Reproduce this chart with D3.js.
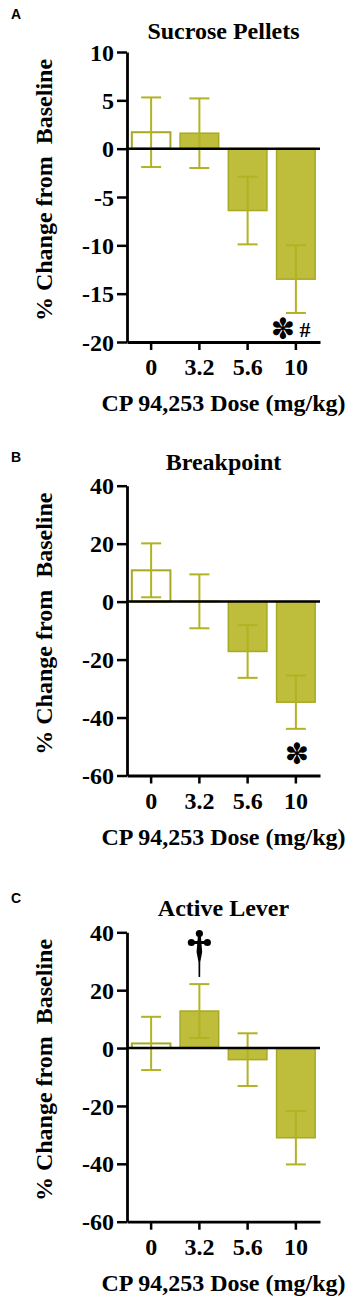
<!DOCTYPE html>
<html>
<head>
<meta charset="utf-8">
<script src="https://cdn.jsdelivr.net/npm/d3@7"></script>
<style>
  body { margin: 0; background: #fff; }
  svg { display: block; }
</style>
</head>
<body>
<div id="chart"></div>
<script>
// ─── Data ────────────────────────────────────────────────────────────────
const doses = ['0', '3.2', '5.6', '10'];

const sucroseMean = [1.7, 1.6, -6.4, -13.5];
const sucroseSem  = [3.6, 3.6, 3.5, 3.5];
const sucroseTicks = [10, 5, 0, -5, -10, -15, -20];

const breakpointMean = [10.8, 0.1, -17.2, -34.7];
const breakpointSem  = [9.3, 9.3, 9.1, 9.2];
const percentTicks = [40, 20, 0, -20, -40, -60];

const activeMean = [1.6, 12.8, -4.0, -31.0];
const activeSem  = [9.2, 9.3, 9.1, 9.2];

const SERIF = '"Liberation Serif", "Times New Roman", serif';
const SANS  = '"Liberation Sans", Arial, sans-serif';
const FILL = '#bebe3c';
const EDGE = '#a8a824';
const ERR  = '#b2b222';

const AXIS_X = 127, AXIS_R = 320;

const svg = d3.select('#chart').append('svg')
  .attr('width', 363).attr('height', 1300);

const panels = [
  { letter: 'A', title: 'Sucrose Pellets', mean: sucroseMean, sem: sucroseSem, ticks: sucroseTicks,
    top: 52, bottom: 342, titleY: 38.5, letterY: 19,
    marks: [{ text: '✽', i: 3, dx: -13, y: 328.5, size: 29 }, { text: '#', i: 3, dx: 9, y: 337, size: 22 }] },
  { letter: 'B', title: 'Breakpoint', mean: breakpointMean, sem: breakpointSem, ticks: percentTicks,
    top: 485.7, bottom: 775.5, titleY: 469.5, letterY: 462,
    marks: [{ text: '✽', i: 3, dx: 1, y: 753.5, size: 29 }] },
  { letter: 'C', title: 'Active Lever', mean: activeMean, sem: activeSem, ticks: percentTicks,
    top: 932.3, bottom: 1221.7, titleY: 916, letterY: 903, dagger: { i: 1, y: 930 } }
];

panels.forEach(drawPanel);

function styleText(sel, size) {
  sel.attr('font-family', SERIF).attr('font-weight', 'bold').attr('font-size', size).attr('fill', '#000');
}

function drawPanel(p) {
  const data = doses.map((d, i) => ({ dose: d, mean: p.mean[i], sem: p.sem[i], i }));
  const x = d3.scaleBand().domain(doses).range([AXIS_X, AXIS_R]).paddingInner(0.2).paddingOuter(0.1);
  const y = d3.scaleLinear().domain([d3.min(p.ticks), d3.max(p.ticks)]).range([p.bottom, p.top]);
  const mid = d => x(d.dose) + x.bandwidth() / 2;
  const g = svg.append('g');

  // bars
  g.selectAll('.bar').data(data).join('rect')
    .attr('class', 'bar')
    .attr('x', d => x(d.dose))
    .attr('width', x.bandwidth())
    .attr('y', d => Math.min(y(d.mean), y(0)))
    .attr('height', d => Math.abs(y(d.mean) - y(0)))
    .attr('fill', d => d.i === 0 ? '#fff' : FILL)
    .attr('stroke', EDGE)
    .attr('stroke-width', d => d.i === 0 ? 2 : 1.5);

  // error bars (mean ± SEM)
  const cap = 10;
  const eb = g.selectAll('.err').data(data).join('g').attr('class', 'err')
    .attr('stroke', ERR).attr('stroke-width', 2);
  eb.append('line')
    .attr('x1', mid).attr('x2', mid)
    .attr('y1', d => y(d.mean + d.sem)).attr('y2', d => y(d.mean - d.sem));
  eb.append('line')
    .attr('x1', d => mid(d) - cap).attr('x2', d => mid(d) + cap)
    .attr('y1', d => y(d.mean + d.sem)).attr('y2', d => y(d.mean + d.sem));
  eb.append('line')
    .attr('x1', d => mid(d) - cap).attr('x2', d => mid(d) + cap)
    .attr('y1', d => y(d.mean - d.sem)).attr('y2', d => y(d.mean - d.sem));

  // zero line
  g.append('line')
    .attr('x1', AXIS_X).attr('x2', AXIS_R)
    .attr('y1', y(0)).attr('y2', y(0))
    .attr('stroke', '#000').attr('stroke-width', 2.5);

  // axes
  g.append('g')
    .attr('transform', `translate(${AXIS_X},0)`)
    .call(d3.axisLeft(y).tickValues(p.ticks).tickFormat(d => String(d))
      .tickSize(10).tickSizeOuter(0).tickPadding(3))
    .call(ax => ax.selectAll('.tick line').attr('stroke-width', 2.5))
    .call(ax => ax.select('.domain').attr('stroke-width', 2.8))
    .call(ax => ax.selectAll('.tick text').attr('dy', '0.34em').call(styleText, 24));

  g.append('g')
    .attr('transform', `translate(0,${p.bottom})`)
    .call(d3.axisBottom(x).tickSize(8).tickSizeOuter(0).tickPadding(8))
    .call(ax => ax.selectAll('.tick line').attr('stroke-width', 2.5))
    .call(ax => ax.select('.domain').attr('stroke-width', 2.8))
    .call(ax => ax.selectAll('.tick text').call(styleText, 24));

  // titles
  const cx = (AXIS_X + AXIS_R) / 2;
  g.append('text')
    .attr('x', cx).attr('y', p.titleY).attr('text-anchor', 'middle')
    .call(styleText, 24).text(p.title);

  g.append('text')
    .attr('x', cx).attr('y', p.bottom + 69).attr('text-anchor', 'middle')
    .call(styleText, 24).text('CP 94,253 Dose (mg/kg)');

  g.append('text')
    .attr('transform', `translate(52,${(p.top + p.bottom) / 2 - 7}) rotate(-90)`)
    .attr('text-anchor', 'middle')
    .call(styleText, 24).attr('xml:space', 'preserve').text('% Change from  Baseline');

  g.append('text')
    .attr('x', 11).attr('y', p.letterY)
    .attr('font-family', SANS).attr('font-weight', 'bold').attr('font-size', 14)
    .text(p.letter);

  // significance marks
  (p.marks || []).forEach(m => {
    const star = m.text !== '#';
    const t = g.append('text')
      .attr('font-family', star ? '"DejaVu Sans", sans-serif' : SERIF)
      .attr('font-weight', star ? 'normal' : 'bold')
      .attr('font-size', m.size).attr('x', 0).attr('y', 0).text(m.text);
    const bb = t.node().getBBox();
    t.attr('x', mid(data[m.i]) + m.dx - bb.width / 2 - bb.x);
    // star ink is centred about 0.36em above the baseline; '#' sits on baseline m.y
    t.attr('y', star ? m.y + 0.36 * m.size : m.y);
  });

  if (p.dagger) {
    const dx = mid(data[p.dagger.i]);
    const dy = p.dagger.y;
    const dg = g.append('g').attr('fill', '#000');
    dg.append('circle').attr('cx', dx).attr('cy', dy + 3.5).attr('r', 3.6);
    dg.append('circle').attr('cx', dx - 8).attr('cy', dy + 12.5).attr('r', 3.6);
    dg.append('circle').attr('cx', dx + 8).attr('cy', dy + 12.5).attr('r', 3.6);
    dg.append('rect').attr('x', dx - 8).attr('y', dy + 11).attr('width', 16).attr('height', 3);
    dg.append('path').attr('d',
      `M${dx - 1.4},${dy + 5} L${dx + 1.4},${dy + 5} L${dx + 2.8},${dy + 22} ` +
      `L${dx + 0.9},${dy + 32} L${dx + 0.8},${dy + 47} L${dx - 0.8},${dy + 47} ` +
      `L${dx - 0.9},${dy + 32} L${dx - 2.8},${dy + 22} Z`);
  }
}
</script>
</body>
</html>
